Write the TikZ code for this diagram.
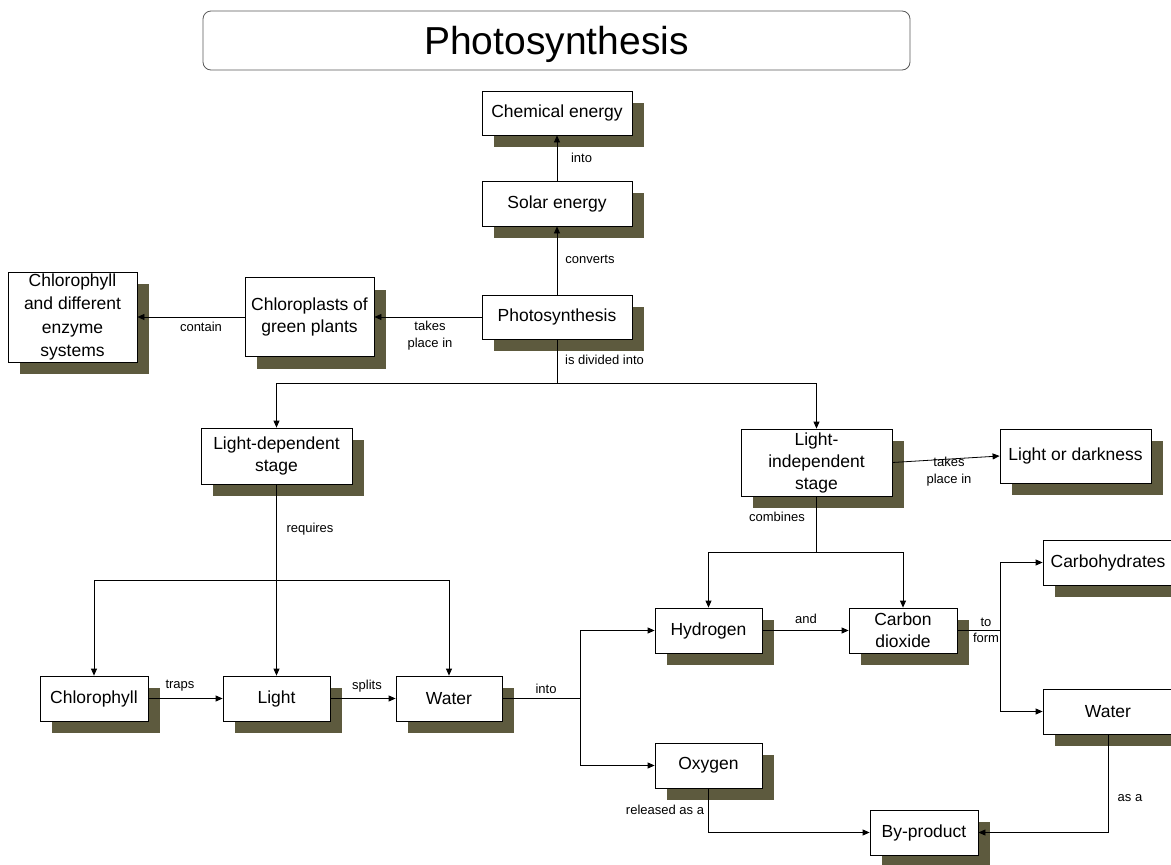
\documentclass[tikz,border=0pt]{standalone}
\usepackage{fontspec}
\setmainfont{Liberation Sans}
\usetikzlibrary{shadows,arrows.meta}
\definecolor{shad}{RGB}{93,90,62}
\tikzset{
 box/.style={draw=black, line width=0.8pt, fill=white, align=center, inner sep=0pt,
   font=\fontsize{17.5}{22}\selectfont,
   drop shadow={shadow xshift=12pt, shadow yshift=-12pt, opacity=1, fill=shad}},
 lbl/.style={font=\fontsize{13}{15}\selectfont, inner sep=1pt, align=center},
 arr/.style={-{Triangle[length=7pt,width=6pt]}, line width=0.8pt},
 ln/.style={line width=0.8pt},
}
\begin{document}
\begin{tikzpicture}[x=1pt,y=-1pt]
\useasboundingbox (0,0) rectangle (1171,865);
\node[draw=gray!70!black, rounded corners=8pt, line width=0.8pt, minimum width=707pt, minimum height=59pt, inner sep=0pt, text depth=0pt, font=\fontsize{39}{44}\selectfont] (title) at (556.5,40.5) {Photosynthesis};
% nodes
\node[box, minimum width=150pt, minimum height=44pt] (chem) at (557,113) {Chemical energy};
\node[box, minimum width=150pt, minimum height=45pt] (solar) at (557,203.5) {Solar energy};
\node[box, minimum width=150pt, minimum height=44pt] (photo) at (557,317) {Photosynthesis};
\node[box, minimum width=129pt, minimum height=79pt] (chloro) at (309.5,317) {Chloroplasts of\\green plants};
\node[box, minimum width=129pt, minimum height=90pt, font=\fontsize{17.5}{23.5}\selectfont] (chlenz) at (72.5,317) {Chlorophyll\\and different\\enzyme\\systems};
\node[box, minimum width=151pt, minimum height=56pt] (ldep) at (276.5,456) {Light-dependent\\stage};
\node[box, minimum width=151pt, minimum height=67pt] (lind) at (816.5,462.5) {Light-\\independent\\stage};
\node[box, minimum width=151pt, minimum height=54pt] (lod) at (1075.5,456) {Light or darkness};
\node[box, minimum width=107pt, minimum height=45pt] (hyd) at (708.5,630.5) {Hydrogen};
\node[box, minimum width=108pt, minimum height=45pt] (co2) at (903,630.5) {Carbon\\dioxide};
\node[box, minimum width=130pt, minimum height=45pt] (carb) at (1108,562.5) {Carbohydrates};
\node[box, minimum width=130pt, minimum height=45pt] (waterR) at (1108,711.5) {Water};
\node[box, minimum width=107pt, minimum height=45pt] (oxy) at (708.5,765.5) {Oxygen};
\node[box, minimum width=108pt, minimum height=45pt] (byp) at (924,832.5) {By-product};
\node[box, minimum width=108pt, minimum height=45pt] (chl) at (94,698.5) {Chlorophyll};
\node[box, minimum width=107pt, minimum height=45pt] (light) at (276.5,698.5) {Light};
\node[box, minimum width=106pt, minimum height=45pt] (waterL) at (449,698.5) {Water};
% junctions
\coordinate (j1) at (557,383);
\coordinate (j2) at (276.5,580);
\coordinate (j3) at (580,698.5);
\coordinate (j4) at (816.5,552);
\coordinate (j5) at (1000,630.5);
% connectors
\draw[arr] (photo.north) -- (solar.south);
\draw[arr] (solar.north) -- (chem.south);
\draw[arr] (photo.west) -- (chloro.east);
\draw[arr] (chloro.west) -- (chlenz.east);
\draw[ln] (photo.south) -- (j1);
\draw[arr] (j1) -| (ldep.north);
\draw[arr] (j1) -| (lind.north);
\draw[arr] (ldep.south) -- (light.north);
\draw[arr] (j2) -| (chl.north);
\draw[arr] (j2) -| (waterL.north);
\draw[arr] (chl.east) -- (light.west);
\draw[arr] (light.east) -- (waterL.west);
\draw[ln] (waterL.east) -- (j3);
\draw[arr] (j3) |- (hyd.west);
\draw[arr] (j3) |- (oxy.west);
\draw[arr] (lind.east) -- (lod.west);
\draw[ln] (lind.south) -- (j4);
\draw[arr] (j4) -| (hyd.north);
\draw[arr] (j4) -| (co2.north);
\draw[arr] (hyd.east) -- (co2.west);
\draw[ln] (co2.east) -- (j5);
\draw[arr] (j5) |- (carb.west);
\draw[arr] (j5) |- (waterR.west);
\draw[arr] (waterR.south) |- (byp.east);
\draw[arr] (oxy.south) |- (byp.west);
% labels
\node[lbl] (l1) at (590,259) {converts};
\node[lbl] (l2) at (581.5,158) {into};
\node[lbl, font=\fontsize{13}{17}\selectfont] (l3) at (430,335.5) {takes\\place in};
\node[lbl] (l4) at (201,327) {contain};
\node[lbl] (l5) at (604.5,360) {is divided into};
\node[lbl] (l6) at (310,529) {requires};
\node[lbl] (l7) at (180,686) {traps};
\node[lbl] (l8) at (367,686) {splits};
\node[lbl] (l9) at (546,689) {into};
\node[lbl, font=\fontsize{13}{17}\selectfont] (l10) at (949,472) {takes\\place in};
\node[lbl] (l11) at (777,517) {combines};
\node[lbl] (l12) at (806,619) {and};
\node[lbl, font=\fontsize{13}{16}\selectfont] (l13) at (986,630) {to\\form};
\node[lbl] (l14) at (1130,798) {as a};
\node[lbl] (l15) at (665,810) {released as a};
\end{tikzpicture}
\end{document}
